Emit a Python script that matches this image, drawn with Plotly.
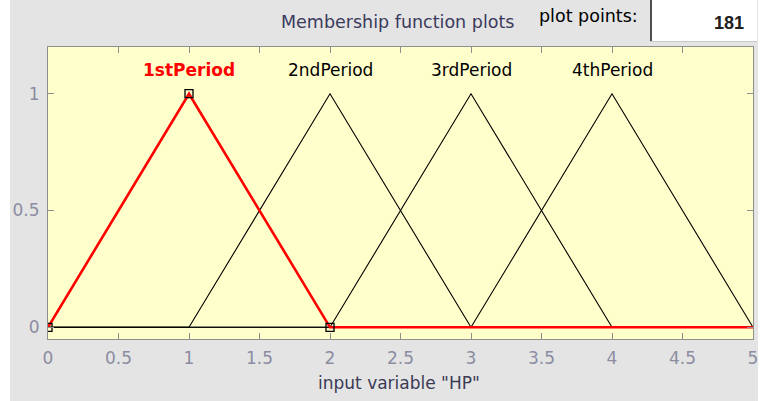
import plotly.graph_objects as go

# membership functions (triangular: a, b, c)
mf_names = ["1stPeriod", "2ndPeriod", "3rdPeriod", "4thPeriod"]
mf_a = [0, 1, 2, 3]
mf_b = [1, 2, 3, 4]
mf_c = [2, 3, 4, 5]
x_min, x_max = 0, 5
x_ticks = [0, 0.5, 1, 1.5, 2, 2.5, 3, 3.5, 4, 4.5, 5]
y_ticks = [0, 0.5, 1]
selected = 0
plot_points = 181

FONT = "DejaVu Sans, Verdana, Arial"
W, H = 761, 401
L, R, T, B = 48, 8, 47, 62
PW, PH = W - L - R, H - T - B


def px(x):
    return (x - L) / PW


def py(y):
    return (H - B - y) / PH


fig = go.Figure()

order = [i for i in range(len(mf_names)) if i != selected] + [selected]
for i in order:
    xs = [x_min, mf_a[i], mf_b[i], mf_c[i], x_max]
    ys = [0, 0, 1, 0, 0]
    sel = i == selected
    fig.add_trace(go.Scatter(x=xs, y=ys, mode="lines",
                             line=dict(color="red" if sel else "black", width=2.6 if sel else 1.1),
                             showlegend=False, hoverinfo="skip"))
    fig.add_annotation(x=mf_b[i], y=1.1, text="<b>%s</b>" % mf_names[i] if sel else mf_names[i],
                       showarrow=False, yanchor="middle",
                       font=dict(family=FONT, color="red" if sel else "black", size=17))

# handles on the selected function
fig.add_trace(go.Scatter(x=[mf_a[selected], mf_b[selected], mf_c[selected]], y=[0, 1, 0], mode="markers",
                         marker=dict(symbol="square-open", size=8, color="black", line=dict(width=1.3)),
                         showlegend=False, hoverinfo="skip"))

axis_common = dict(showgrid=False, zeroline=False, showline=True, linecolor="#8f8f8f", linewidth=1,
                   mirror="ticks", ticks="inside", ticklen=6, tickcolor="#8f8f8f", automargin=False,
                   tickfont=dict(family=FONT, size=17, color="#8c8ca2"))

fig.update_xaxes(range=[x_min, x_max], tickvals=x_ticks, ticktext=[("%g" % v) for v in x_ticks],
                 ticklabelstandoff=4, **axis_common)
fig.update_yaxes(range=[-0.05, 1.2], tickvals=y_ticks, ticktext=["0", "0.5", "1"],
                 ticklabelstandoff=4, **axis_common)

fig.update_layout(
    width=W, height=H,
    margin=dict(l=L, r=R, t=T, b=B),
    paper_bgcolor="#e4e4e4",
    plot_bgcolor="#ffffcc",
    shapes=[
        dict(type="rect", xref="paper", yref="paper", x0=px(0), x1=px(10), y0=py(H), y1=py(0),
             fillcolor="white", line=dict(width=0), layer="below"),
        dict(type="rect", xref="paper", yref="paper", x0=px(758), x1=px(W), y0=py(H), y1=py(0),
             fillcolor="white", line=dict(width=0), layer="below"),
        dict(type="rect", xref="paper", yref="paper", x0=px(650), x1=px(757), y0=py(41), y1=py(0),
             fillcolor="white", line=dict(width=0)),
        dict(type="line", xref="paper", yref="paper", x0=px(650), x1=px(757), y0=py(41.5), y1=py(41.5),
             line=dict(color="#c8c8c8", width=1)),
        dict(type="line", xref="paper", yref="paper", x0=px(651), x1=px(651), y0=py(41), y1=py(0),
             line=dict(color="#505050", width=2)),
    ],
)

fig.add_annotation(xref="paper", yref="paper", x=px(516), y=py(22), xanchor="right", yanchor="middle",
                   text="Membership function plots", showarrow=False,
                   font=dict(family=FONT, size=17.5, color="#3a3a5c"))
fig.add_annotation(xref="paper", yref="paper", x=px(537), y=py(16), xanchor="left", yanchor="middle",
                   text="plot points:", showarrow=False,
                   font=dict(family=FONT, size=17.5, color="black"))
fig.add_annotation(xref="paper", yref="paper", x=px(746), y=py(23), xanchor="right", yanchor="middle",
                   text="<b>%d</b>" % plot_points, showarrow=False,
                   font=dict(family="Liberation Sans, Arial", size=18, color="#202020"))
fig.add_annotation(xref="paper", yref="paper", x=px(399), y=py(383), xanchor="center", yanchor="middle",
                   text='input variable "HP"', showarrow=False,
                   font=dict(family=FONT, size=17, color="#3a3a55"))

# page body has a default 8px margin; drop it so the figure fills the window
fig.write_html("out.html", config={"displayModeBar": False},
               post_script="document.body.style.margin='0';")
